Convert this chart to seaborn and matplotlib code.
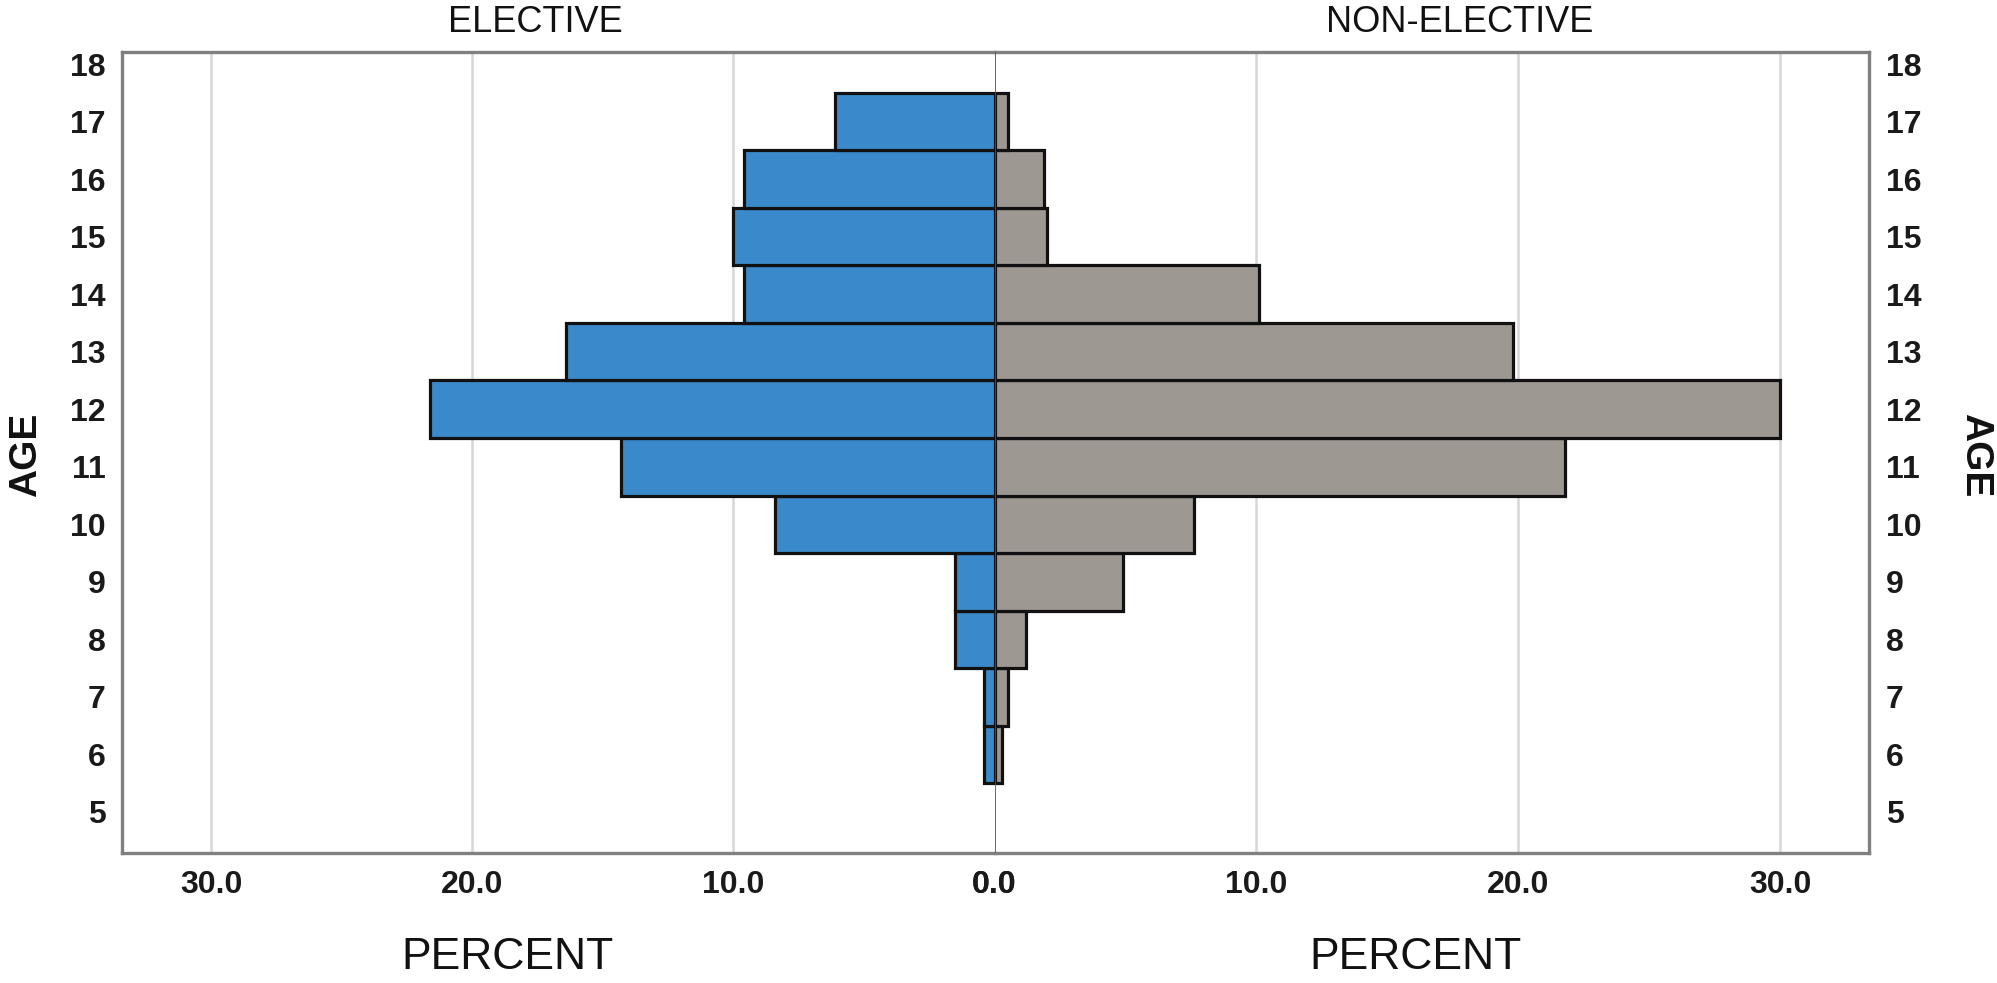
import matplotlib
matplotlib.use("Agg")
import matplotlib.pyplot as plt
import matplotlib.font_manager as fm
import seaborn as sns
import pandas as pd

ages = [6, 7, 8, 9, 10, 11, 12, 13, 14, 15, 16, 17]
elective = [0.4, 0.4, 1.5, 1.5, 8.4, 14.3, 21.6, 16.4, 9.6, 10.0, 9.6, 6.1]
non_elective = [0.3, 0.5, 1.2, 4.9, 7.6, 21.8, 30.0, 19.8, 10.1, 2.0, 1.9, 0.5]
age_ticks = list(range(5, 19))
pct_ticks = [0, 10, 20, 30]
pct_labels = ["0.0", "10.0", "20.0", "30.0"]

sns.set_theme(style="white")
names = {f.name for f in fm.fontManager.ttflist}
tick_family = ["Liberation Sans Narrow", "DejaVu Sans"] if "Liberation Sans Narrow" in names else ["Liberation Sans", "DejaVu Sans"]
plt.rcParams["font.family"] = ["Liberation Sans", "DejaVu Sans"]

df_e = pd.DataFrame({"age": ages, "pct": elective})
df_n = pd.DataFrame({"age": ages, "pct": non_elective})

fig = plt.figure(figsize=(19.97, 9.83), dpi=100)
ax1 = fig.add_axes([0.0612, 0.132, 0.4368, 0.815])
ax2 = fig.add_axes([0.498, 0.132, 0.438, 0.815])

BLUE = "#3A8ACB"
GRAY = "#9E9893"
SPINE = "#808080"

for ax, df, col in [(ax1, df_e, BLUE), (ax2, df_n, GRAY)]:
    for g in pct_ticks[1:]:
        ax.axvline(g, color="#d6d6d6", lw=1.8, zorder=0)
    sns.barplot(data=df, x="pct", y="age", orient="h", native_scale=True,
                width=1.0, color=col, saturation=1, edgecolor="#111111",
                linewidth=2.3, ax=ax, zorder=2)
    ax.set_ylim(4.28, 18.21)
    ax.set_yticks(age_ticks)
    ax.set_yticklabels([str(a) for a in age_ticks])
    ax.set_xticks(pct_ticks)
    ax.set_xticklabels(pct_labels)
    ax.set_xlabel("")
    ax.set_ylabel("")
    ax.grid(False)
    ax.tick_params(length=0, labelsize=23, pad=12)
    for s in ax.spines.values():
        s.set_color(SPINE)
        s.set_linewidth(2.4)

ax1.set_xlim(33.4, 0)
ax2.set_xlim(0, 33.4)
ax1.spines["right"].set_visible(False)
ax2.spines["left"].set_visible(False)
ax2.yaxis.tick_right()
ax2.tick_params(axis="y", labelleft=False, labelright=True, pad=12)
ax2.axvline(0, color="#505050", lw=1.2, zorder=5)

for ax in (ax1, ax2):
    for axis in (ax.xaxis, ax.yaxis):
        for t in axis.get_major_ticks():
            for lab in (t.label1, t.label2):
                lab.set_family(tick_family)
                lab.set_fontweight("bold")
                lab.set_color("#1a1a1a")
                lab.set_fontsize(23)

fig.text(0.268, 0.977, "ELECTIVE", ha="center", va="center", fontsize=26, color="#111111")
fig.text(0.731, 0.977, "NON-ELECTIVE", ha="center", va="center", fontsize=26, color="#111111")
fig.text(0.254, 0.026, "PERCENT", ha="center", va="center", fontsize=32, color="#111111")
fig.text(0.709, 0.026, "PERCENT", ha="center", va="center", fontsize=32, color="#111111")
fig.text(0.013, 0.537, "AGE", ha="center", va="center", rotation=90, fontsize=28, fontweight="bold", color="#111111")
fig.text(0.989, 0.537, "AGE", ha="center", va="center", rotation=270, fontsize=28, fontweight="bold", color="#111111")

fig.savefig("out.png", dpi=100, facecolor="white")
